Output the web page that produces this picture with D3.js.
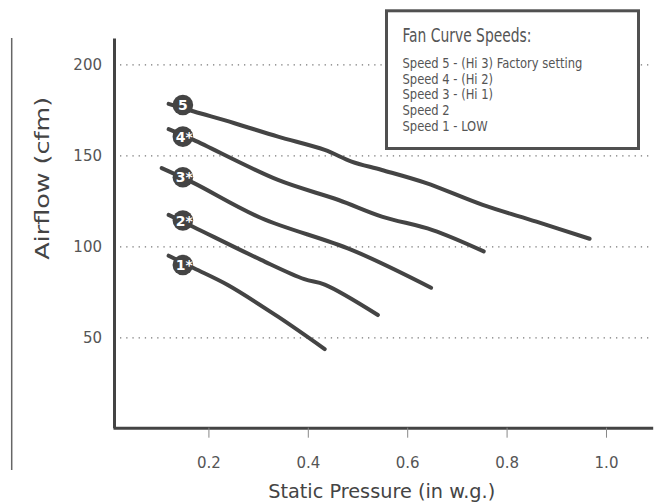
<!DOCTYPE html>
<html>
<head>
<meta charset="utf-8">
<script src="https://cdn.jsdelivr.net/npm/d3@7"></script>
<style>
  html, body { margin: 0; padding: 0; background: #fff; }
  svg { display: block; }
</style>
</head>
<body>
<svg id="chart" width="662" height="502"></svg>
<script>
// ---- data ----
const speedLabels = ["5", "4*", "3*", "2*", "1*"];
const pressure5 = [0.12, 0.171, 0.251, 0.340, 0.434, 0.488, 0.549, 0.637, 0.752, 0.860, 0.967];
const airflow5  = [178.6, 174.4, 168.1, 160.6, 153.3, 146.9, 142.3, 135.2, 123.1, 113.9, 104.5];
const pressure4 = [0.12, 0.170, 0.340, 0.462, 0.549, 0.651, 0.754];
const airflow4  = [164.7, 158.8, 136.8, 125.8, 116.7, 109.3, 97.6];
const pressure3 = [0.106, 0.170, 0.306, 0.488, 0.648];
const airflow3  = [143.3, 135.2, 115.9, 98.4, 77.6];
const pressure2 = [0.12, 0.170, 0.306, 0.393, 0.434, 0.541];
const airflow2  = [117.6, 111.0, 92.9, 82.3, 79.3, 62.6];
const pressure1 = [0.12, 0.171, 0.239, 0.340, 0.434];
const airflow1  = [95.2, 88.3, 79.1, 61.7, 43.9];
const markerPressure = 0.1486;
const markerAirflow = [178.0, 160.6, 138.3, 114.5, 90.1];
const xTicks = [0.2, 0.4, 0.6, 0.8, 1.0];
const yTicks = [50, 100, 150, 200];
const legendTitle = "Fan Curve Speeds:";
const legendItems = [
  "Speed 5 - (Hi 3) Factory setting",
  "Speed 4 - (Hi 2)",
  "Speed 3 - (Hi 1)",
  "Speed 2",
  "Speed 1 - LOW"
];
const xTitle = "Static Pressure (in w.g.)";
const yTitle = "Airflow (cfm)";

const series = [
  {p: pressure5, a: airflow5},
  {p: pressure4, a: airflow4},
  {p: pressure3, a: airflow3},
  {p: pressure2, a: airflow2},
  {p: pressure1, a: airflow1}
];

// ---- scales ----
const svg = d3.select("#chart");
const x = d3.scaleLinear().domain([0.008, 1.094]).range([113, 652.7]);
const y = d3.scaleLinear().domain([0.7, 214.8]).range([427.7, 38]);

const ink = "#444";
const axisFont = "'DejaVu Sans', sans-serif";
const condFont = "'Liberation Sans Narrow', 'DejaVu Sans Condensed', 'Liberation Sans', sans-serif";

// left thin line
svg.append("line")
  .attr("x1", 11.7).attr("x2", 11.7).attr("y1", 38).attr("y2", 470)
  .attr("stroke", "#666").attr("stroke-width", 1.5);

// gridlines
svg.append("g").selectAll("line").data(yTicks).join("line")
  .attr("x1", 120).attr("x2", 651)
  .attr("y1", d => y(d)).attr("y2", d => y(d))
  .attr("stroke", "#777").attr("stroke-width", 1.3)
  .attr("stroke-dasharray", "1.3,4.9");

// x axis
const xAxis = svg.append("g")
  .attr("transform", `translate(0,${y(0.7)})`)
  .call(d3.axisBottom(x).tickValues(xTicks).tickFormat(d3.format(".1f"))
        .tickSizeOuter(0).tickSizeInner(10).tickPadding(14));
xAxis.select(".domain").attr("stroke", ink).attr("stroke-width", 3);
xAxis.selectAll(".tick line").attr("stroke", "#888").attr("stroke-width", 1);
xAxis.selectAll(".tick text").attr("fill", "#555").attr("font-size", 15)
  .attr("font-family", axisFont).attr("dy", "0.35em").attr("y", 35);

// y axis
const yAxis = svg.append("g")
  .attr("transform", `translate(${x(0.008) + 1},0)`)
  .call(d3.axisLeft(y).tickValues(yTicks).tickSizeOuter(0).tickSizeInner(0).tickPadding(12));
yAxis.select(".domain").attr("stroke", ink).attr("stroke-width", 3);
yAxis.selectAll(".tick text").attr("fill", "#555").attr("font-size", 15)
  .attr("font-family", axisFont);

// axis titles
svg.append("text")
  .attr("x", 381.7).attr("y", 497.5).attr("text-anchor", "middle")
  .attr("font-family", axisFont).attr("font-size", 19).attr("fill", ink)
  .attr("textLength", 227).attr("lengthAdjust", "spacingAndGlyphs")
  .text(xTitle);
svg.append("text")
  .attr("transform", "translate(48.5,178.3) rotate(-90)")
  .attr("text-anchor", "middle")
  .attr("font-family", axisFont).attr("font-size", 19).attr("fill", ink)
  .attr("textLength", 163).attr("lengthAdjust", "spacingAndGlyphs")
  .text(yTitle);

// curves
const line = d3.line().x(d => x(d[0])).y(d => y(d[1])).curve(d3.curveCatmullRom);
svg.append("g").selectAll("path").data(series).join("path")
  .attr("d", s => line(s.p.map((v, i) => [v, s.a[i]])))
  .attr("fill", "none").attr("stroke", ink).attr("stroke-width", 4)
  .attr("stroke-linecap", "round").attr("stroke-linejoin", "round");

// markers
const mk = svg.append("g").selectAll("g").data(speedLabels).join("g")
  .attr("transform", (d, i) => `translate(${x(markerPressure)},${y(markerAirflow[i])})`);
mk.append("circle").attr("r", 10.3).attr("fill", ink);
mk.append("text").text(d => d)
  .attr("text-anchor", "middle").attr("dy", "0.36em")
  .attr("x", d => d.length > 1 ? 1.5 : 0)
  .attr("fill", "#fff").attr("font-family", axisFont).attr("font-weight", "bold")
  .attr("font-size", 14);

// legend
svg.append("rect")
  .attr("x", 386.5).attr("y", 10.8).attr("width", 252).attr("height", 137.7)
  .attr("fill", "#fff").attr("stroke", "#505050").attr("stroke-width", 3);
svg.append("text")
  .attr("x", 402.5).attr("y", 42.3)
  .attr("font-family", condFont).attr("font-size", 20).attr("fill", "#555")
  .attr("textLength", 129).attr("lengthAdjust", "spacingAndGlyphs")
  .text(legendTitle);
const itemG = svg.append("g");
const itemTexts = itemG.selectAll("text").data(legendItems).join("text")
  .attr("x", 0).attr("y", (d, i) => 67.8 + i * 15.8)
  .attr("font-family", condFont).attr("font-size", 13.5).attr("fill", "#555")
  .text(d => d);
const w0 = itemTexts.nodes()[0].getComputedTextLength();
const sx = 180 / w0;
itemG.attr("transform", `translate(402.5,0) scale(${sx},1)`);
</script>
</body>
</html>
